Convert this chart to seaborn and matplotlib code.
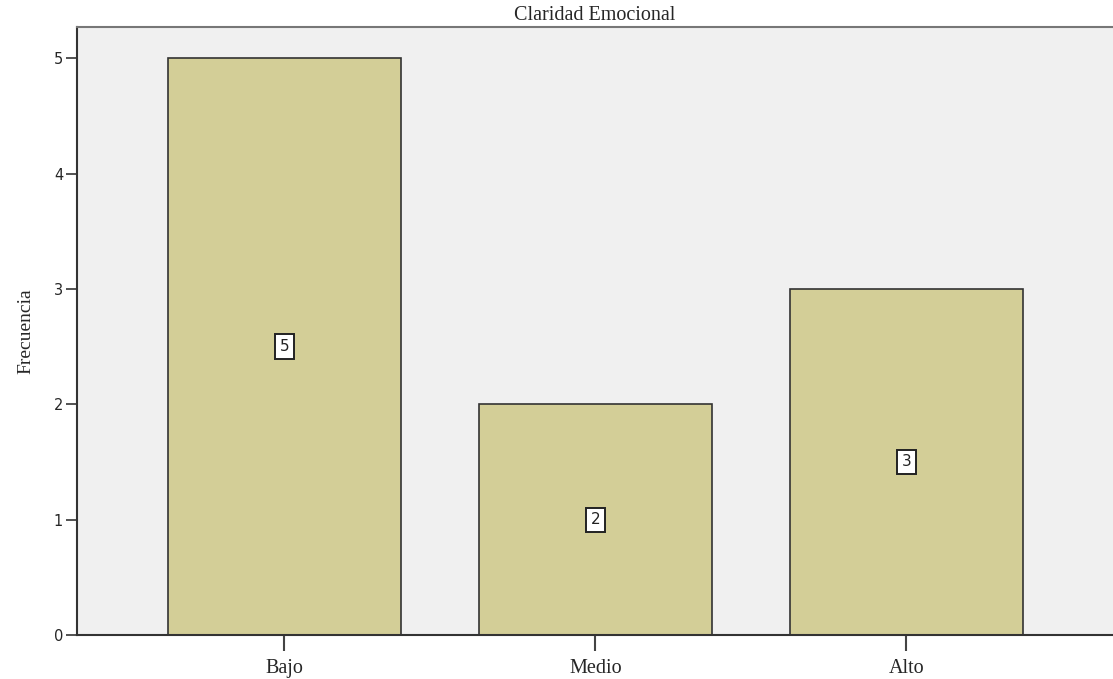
import seaborn as sns
import matplotlib.pyplot as plt
import pandas as pd

categorias = ["Bajo", "Medio", "Alto"]
frecuencias = [5, 2, 3]

df = pd.DataFrame({"nivel": categorias, "frecuencia": frecuencias})

sns.set_style("white")
fig = plt.figure(figsize=(11.13, 6.79), dpi=100)
ax = fig.add_axes([77 / 1113, 44 / 679, 1 - 77 / 1113, 608 / 679])
ax.set_facecolor("#f0f0f0")

sns.barplot(data=df, x="nivel", y="frecuencia", color="#d3ce97", width=0.75,
            edgecolor="#333333", linewidth=1.2, saturation=1, ax=ax)

# etiquetas dentro de las barras
for i, v in enumerate(frecuencias):
    ax.text(i, v / 2, str(v), ha="center", va="center", fontsize=11,
            family="DejaVu Sans", color="#222222",
            bbox=dict(boxstyle="square,pad=0.3", facecolor="white",
                      edgecolor="#222222", linewidth=1.4))

ax.set_ylim(0, 5.27)
ax.set_xlim(-0.667, 2.664)
ax.set_yticks(range(0, 6))
ax.tick_params(axis="y", direction="out", length=8, width=1.2, labelsize=10.5,
               pad=2, color="#333333", left=True)
ax.tick_params(axis="x", direction="out", length=11.5, width=1.5, labelsize=14.5,
               pad=6, color="#444444", bottom=True)
for lab in ax.get_xticklabels():
    lab.set_family("Liberation Serif")
for lab in ax.get_yticklabels():
    lab.set_family("DejaVu Sans")

for s in ["left", "bottom"]:
    ax.spines[s].set_color("#333333")
    ax.spines[s].set_linewidth(1.5)
ax.spines["top"].set_color("#777777")
ax.spines["top"].set_linewidth(1.5)
ax.spines["right"].set_visible(False)

ax.set_xlabel("")
ax.set_ylabel("Frecuencia", family="Liberation Serif", fontsize=14, labelpad=14)
ax.set_title("Claridad Emocional", family="Liberation Serif", fontsize=14.5, pad=5)

fig.savefig("out.png", dpi=100)
